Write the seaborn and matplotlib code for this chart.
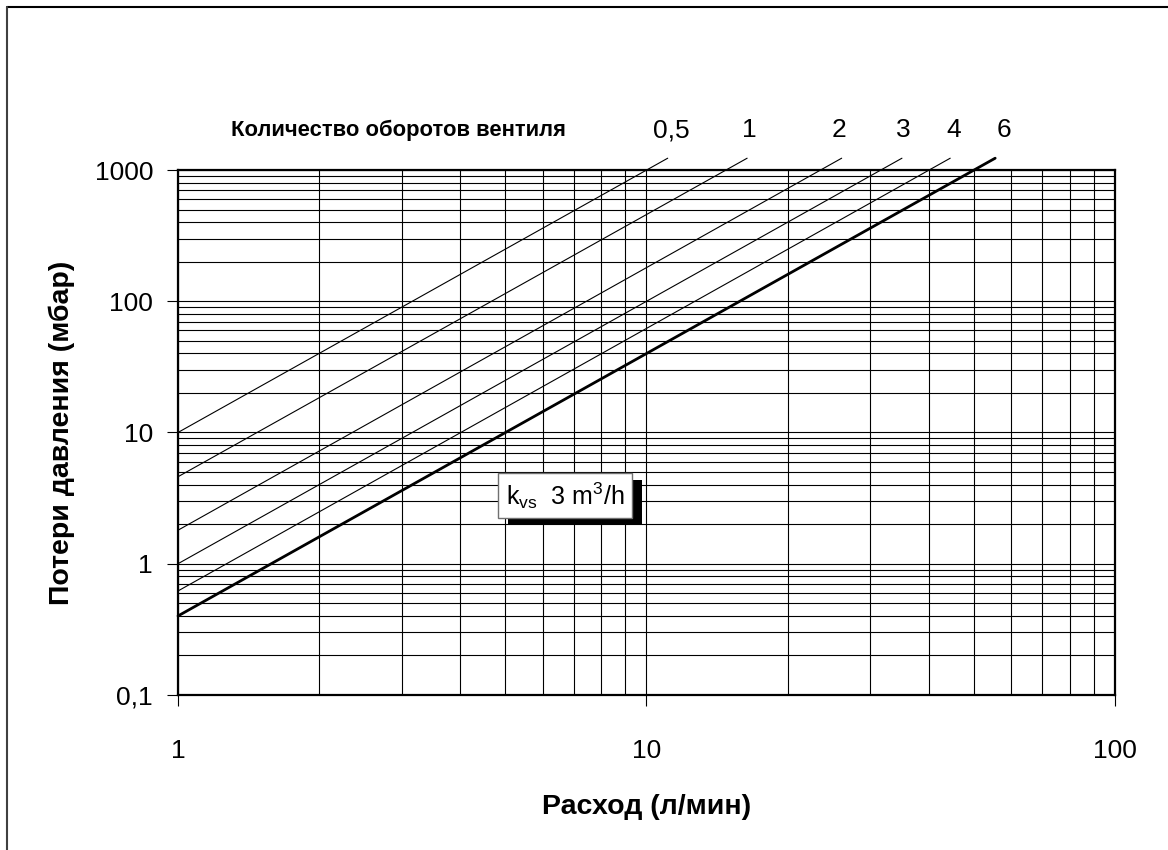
import numpy as np
import pandas as pd
import matplotlib
matplotlib.use("Agg")
import matplotlib.pyplot as plt
from matplotlib.lines import Line2D
from matplotlib.patches import Rectangle
from matplotlib.ticker import FixedLocator, FixedFormatter, LogLocator, NullFormatter
import seaborn as sns

# =========================================================
# DATA
# =========================================================

# valve turns (labels above the line ends)
turn_labels = ["0,5", "1", "2", "3", "4", "6"]

# pressure loss (mbar) at 1 l/min for each curve
dp_start = [10.0, 4.6, 1.8, 1.0, 0.62, 0.4]
flow_start = [1, 1, 1, 1, 1, 1]

# where each curve stops, just above the top of the grid
flow_end = [11.1, 16.4, 26.1, 35.1, 44.5, 55.5]
dp_end = [1230, 1230, 1230, 1230, 1230, 1230]

# label positions over the line ends
label_x = [11.3, 16.6, 25.7, 35.3, 45.3, 58.0]
label_y = 2000

y_ticks = [0.1, 1, 10, 100, 1000]
y_tick_labels = ["0,1", "1", "10", "100", "1000"]
x_ticks = [1, 10, 100]
x_tick_labels = ["1", "10", "100"]

rows = []
for lab, x0, y0, x1, y1 in zip(turn_labels, flow_start, dp_start, flow_end, dp_end):
    rows.append({"turns": lab, "flow": x0, "dp": y0})
    rows.append({"turns": lab, "flow": x1, "dp": y1})
df = pd.DataFrame(rows)

# =========================================================
# PLOT
# =========================================================

sns.set_theme(style="white")
plt.rcParams["font.family"] = ["Liberation Sans", "DejaVu Sans"]
plt.rcParams["mathtext.fontset"] = "custom"
plt.rcParams["mathtext.rm"] = "Liberation Sans"
plt.rcParams["text.color"] = "black"
plt.rcParams["axes.labelcolor"] = "black"
plt.rcParams["xtick.color"] = "black"
plt.rcParams["ytick.color"] = "black"

fig = plt.figure(figsize=(11.68, 8.5), dpi=100)
ax = fig.add_axes([0.1524, 0.1824, 0.8022, 0.6176])

for lab in turn_labels:
    d = df[df["turns"] == lab]
    lw = 2.0 if lab == "6" else 0.8
    sns.lineplot(data=d, x="flow", y="dp", ax=ax, color="black", lw=lw,
                 clip_on=False, zorder=3, estimator=None, sort=False)

ax.set_xscale("log")
ax.set_yscale("log")
ax.set_xlim(1, 100)
ax.set_ylim(0.1, 1000)

# grid: major + minor, all black
ax.xaxis.set_minor_locator(LogLocator(base=10, subs=np.arange(2, 10)))
ax.yaxis.set_minor_locator(LogLocator(base=10, subs=np.arange(2, 10)))
ax.xaxis.set_minor_formatter(NullFormatter())
ax.yaxis.set_minor_formatter(NullFormatter())
ax.grid(True, which="both", color="black", lw=0.8)
ax.set_axisbelow(True)

ax.yaxis.set_major_locator(FixedLocator(y_ticks))
ax.yaxis.set_major_formatter(FixedFormatter(y_tick_labels))
ax.xaxis.set_major_locator(FixedLocator(x_ticks))
ax.xaxis.set_major_formatter(FixedFormatter(x_tick_labels))

ax.tick_params(axis="both", which="major", direction="out", length=8, width=0.8,
               color="black", labelsize=19, labelcolor="black", left=True, bottom=True)
ax.tick_params(axis="y", which="major", pad=10)
ax.tick_params(axis="x", which="major", pad=24)
ax.tick_params(which="minor", length=0)

for sp in ax.spines.values():
    sp.set_color("black")
    sp.set_linewidth(1.6)

ax.set_xlabel("Расход (л/мин)", fontsize=20.5, fontweight="bold", labelpad=22)
ax.set_ylabel("Потери давления (мбар)", fontsize=20.5, fontweight="bold", labelpad=14)

# curve labels
for lab, lx in zip(turn_labels, label_x):
    ax.text(lx, label_y, lab, ha="center", va="center", fontsize=19, clip_on=False)

ax.text(1.30, label_y, "Количество оборотов вентиля", ha="left", va="center",
        fontsize=15.8, fontweight="bold", clip_on=False)

# kvs box
kvs_text = r"k$_{\rm vs}$  3 m$^3$/h"
kvs_x, kvs_y = 6.7, 3.3
kvs = ax.text(kvs_x, kvs_y, kvs_text, ha="center", va="center", fontsize=18,
              color="black", zorder=5,
              bbox=dict(boxstyle="square,pad=0.3", fc="white", ec="#707070", lw=1))

# drop shadow: black rectangle behind the box, shifted right/down
fig.canvas.draw()
bb = kvs.get_bbox_patch().get_window_extent()
inv = ax.transData.inverted()
(sx0, sy0) = inv.transform((bb.x0 + 10, bb.y0 - 7))
(sx1, sy1) = inv.transform((bb.x1 + 10, bb.y1 - 7))
ax.add_patch(Rectangle((sx0, sy0), sx1 - sx0, sy1 - sy0, fc="black", ec="none", zorder=4))

# outer frame (top and left only)
fig.add_artist(Line2D([0.006, 1.0], [0.9918, 0.9918], transform=fig.transFigure,
                      color="black", lw=1.5))
fig.add_artist(Line2D([0.006, 0.006], [0.0, 0.9918], transform=fig.transFigure,
                      color="#404040", lw=1.5))

fig.savefig("out.png", dpi=100)
